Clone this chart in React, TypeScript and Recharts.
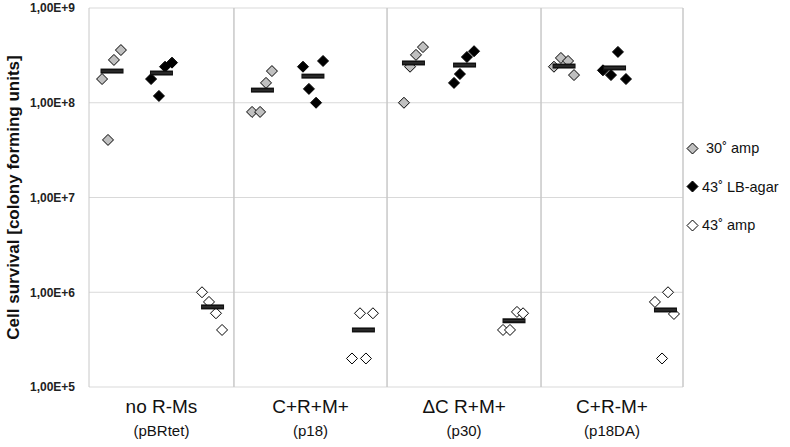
import {
  ScatterChart,
  Scatter,
  XAxis,
  YAxis,
  CartesianGrid,
  ReferenceLine,
} from "recharts"

// group labels, two lines each
const strains = ["no R-Ms", "C+R+M+", "ΔC R+M+", "C+R-M+"]
const plasmids = ["(pBRtet)", "(p18)", "(p30)", "(p18DA)"]

// group boundaries on the x axis (groups are not quite equal width)
const groupEdges = [0, 0.976, 2.007, 3.044, 4]
const labelCenters = [0.488, 1.492, 2.526, 3.522]

const yTicks = [1e5, 1e6, 1e7, 1e8, 1e9]

// 30° amp (grey)
const amp30 = [
  { x: 0.088, y: 1.78e8 },
  { x: 0.128, y: 4.05e7 },
  { x: 0.168, y: 2.83e8 },
  { x: 0.215, y: 3.6e8 },
  { x: 1.098, y: 8.0e7 },
  { x: 1.152, y: 8.0e7 },
  { x: 1.192, y: 1.62e8 },
  { x: 1.232, y: 2.16e8 },
  { x: 2.121, y: 1.0e8 },
  { x: 2.162, y: 2.4e8 },
  { x: 2.202, y: 3.2e8 },
  { x: 2.249, y: 3.87e8 },
  { x: 3.131, y: 2.4e8 },
  { x: 3.178, y: 2.97e8 },
  { x: 3.226, y: 2.76e8 },
  { x: 3.266, y: 1.96e8 },
]

// 43° LB-agar (black)
const lb43 = [
  { x: 0.418, y: 1.78e8 },
  { x: 0.471, y: 1.18e8 },
  { x: 0.512, y: 2.4e8 },
  { x: 0.559, y: 2.65e8 },
  { x: 1.441, y: 2.4e8 },
  { x: 1.481, y: 1.4e8 },
  { x: 1.529, y: 1.0e8 },
  { x: 1.576, y: 2.76e8 },
  { x: 2.458, y: 1.62e8 },
  { x: 2.498, y: 2.01e8 },
  { x: 2.545, y: 3.04e8 },
  { x: 2.593, y: 3.5e8 },
  { x: 3.461, y: 2.2e8 },
  { x: 3.515, y: 1.96e8 },
  { x: 3.562, y: 3.44e8 },
  { x: 3.616, y: 1.78e8 },
]

// 43° amp (white)
const amp43 = [
  { x: 0.761, y: 1.0e6 },
  { x: 0.808, y: 7.9e5 },
  { x: 0.855, y: 6.0e5 },
  { x: 0.896, y: 4.0e5 },
  { x: 1.771, y: 2.0e5 },
  { x: 1.825, y: 6.0e5 },
  { x: 1.865, y: 2.0e5 },
  { x: 1.912, y: 6.0e5 },
  { x: 2.788, y: 4.0e5 },
  { x: 2.835, y: 4.0e5 },
  { x: 2.882, y: 6.2e5 },
  { x: 2.923, y: 6.0e5 },
  { x: 3.811, y: 7.9e5 },
  { x: 3.859, y: 2.0e5 },
  { x: 3.899, y: 1.0e6 },
  { x: 3.939, y: 5.9e5 },
]

// mean bars
const means = [
  { x: 0.155, y: 2.16e8 },
  { x: 0.488, y: 2.06e8 },
  { x: 0.832, y: 7.0e5 },
  { x: 1.168, y: 1.36e8 },
  { x: 1.508, y: 1.91e8 },
  { x: 1.848, y: 4.0e5 },
  { x: 2.185, y: 2.63e8 },
  { x: 2.529, y: 2.5e8 },
  { x: 2.862, y: 5.0e5 },
  { x: 3.199, y: 2.44e8 },
  { x: 3.539, y: 2.33e8 },
  { x: 3.882, y: 6.5e5 },
]

const legendItems = [
  { label: " 30˚ amp", fill: "#c0c0c0" },
  { label: "43˚ LB-agar", fill: "#000000" },
  { label: "43˚ amp", fill: "#ffffff" },
]

const FONT = "'Liberation Sans', Arial, sans-serif"

const diamond = (fill: string) => (props: any) => {
  const { cx, cy } = props
  const r = 5.5
  return (
    <polygon
      points={`${cx},${cy - r} ${cx + r},${cy} ${cx},${cy + r} ${cx - r},${cy}`}
      fill={fill}
      stroke="#000"
      strokeWidth={1}
    />
  )
}

const MeanBar = (props: any) => {
  const { cx, cy } = props
  return (
    <g>
      <rect x={cx - 11.5} y={cy - 2.5} width={23} height={5} fill="#111" />
      <line x1={cx - 10.5} x2={cx + 10.5} y1={cy} y2={cy} stroke="#555" strokeWidth={0.7} />
    </g>
  )
}

const CategoryTick = (props: any) => {
  const { x, y, index } = props
  return (
    <g fontFamily={FONT}>
      <text x={x} y={y + 18} textAnchor="middle" fontSize={19} fill="#111">
        {strains[index]}
      </text>
      <text x={x} y={y + 41} textAnchor="middle" fontSize={15} fill="#111">
        {plasmids[index]}
      </text>
    </g>
  )
}

const formatY = (v: number) => `1,00E+${Math.round(Math.log10(v))}`

function LegendBox() {
  return (
    <div
      style={{
        position: "absolute",
        left: 686,
        top: 129,
        fontFamily: FONT,
        fontSize: 14.5,
        color: "#111",
      }}
    >
      {legendItems.map((it) => (
        <div
          key={it.label}
          style={{ height: 38.5, display: "flex", alignItems: "center", whiteSpace: "pre" }}
        >
          <svg width={13} height={13} style={{ marginRight: 3 }}>
            <polygon
              points="6.5,1 12,6.5 6.5,12 1,6.5"
              fill={it.fill}
              stroke="#000"
              strokeWidth={1}
            />
          </svg>
          {it.label}
        </div>
      ))}
    </div>
  )
}

function App() {
  return (
    <div style={{ position: "absolute", left: 0, top: 0, width: 790, height: 447, background: "#fff" }}>
      <ScatterChart
        width={790}
        height={447}
        margin={{ top: 8, right: 107, bottom: 0, left: 0 }}
      >
        <CartesianGrid vertical={false} stroke="#d9d9d9" />
        <XAxis
          type="number"
          dataKey="x"
          domain={[0, 4]}
          ticks={labelCenters}
          interval={0}
          tick={<CategoryTick />}
          tickLine={false}
          axisLine={false}
          height={60}
        />
        <YAxis
          type="number"
          dataKey="y"
          scale="log"
          domain={[1e5, 1e9]}
          ticks={yTicks}
          interval={0}
          allowDataOverflow
          tickFormatter={formatY}
          tickLine={false}
          axisLine={{ stroke: "#c8c8c8" }}
          width={89}
          tick={{ fontSize: 12, fontWeight: 700, fill: "#222", fontFamily: FONT }}
          tickMargin={8}
          label={{
            value: "Cell survival [colony forming units]",
            angle: -90,
            position: "insideLeft",
            dx: 8,
            style: { fontSize: 17, fontWeight: 700, fill: "#111", fontFamily: FONT, textAnchor: "middle" },
          }}
        />
        {groupEdges.slice(1).map((e) => (
          <ReferenceLine key={e} x={e} stroke="#c8c8c8" strokeWidth={1.5} />
        ))}
        <Scatter data={amp30} shape={diamond("#c0c0c0")} isAnimationActive={false} />
        <Scatter data={lb43} shape={diamond("#000000")} isAnimationActive={false} />
        <Scatter data={amp43} shape={diamond("#ffffff")} isAnimationActive={false} />
        <Scatter data={means} shape={<MeanBar />} isAnimationActive={false} />
      </ScatterChart>
      <LegendBox />
    </div>
  )
}

export default App
